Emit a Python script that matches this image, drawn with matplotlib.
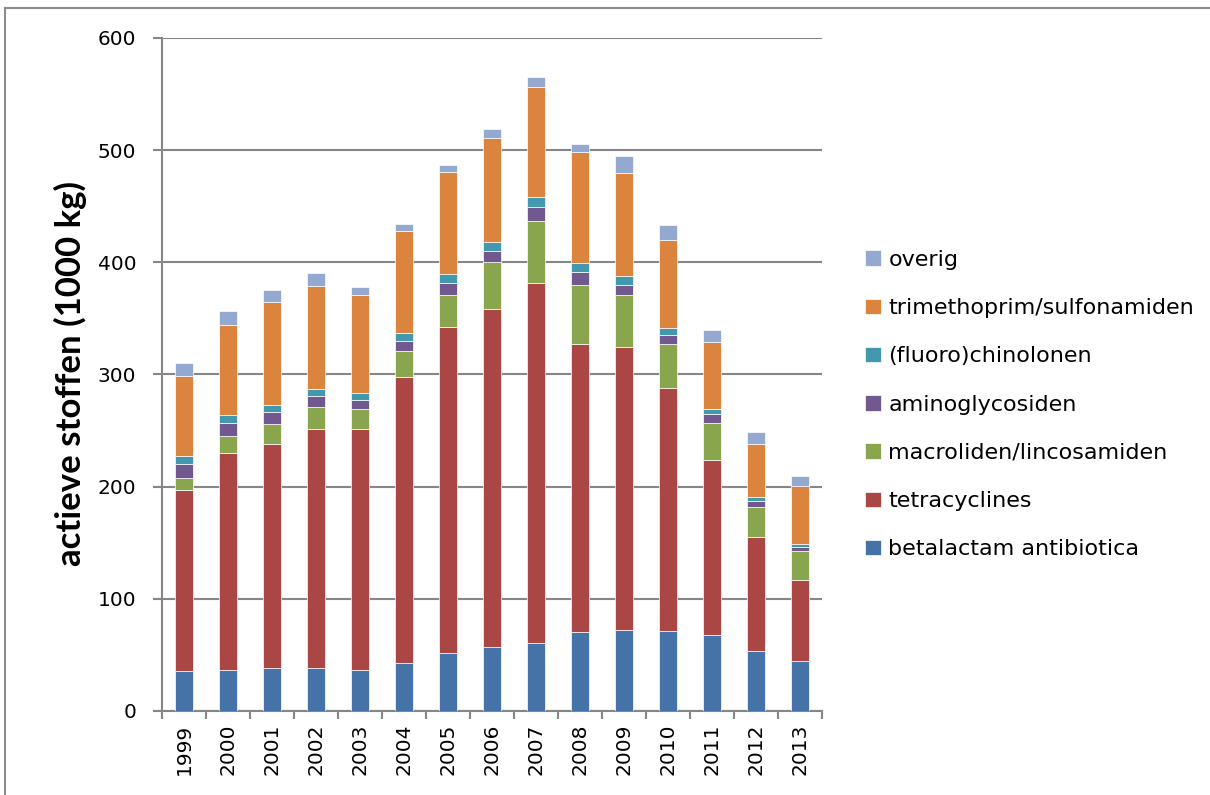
import numpy as np
import matplotlib
matplotlib.use("Agg")
from matplotlib import pyplot as plt
from matplotlib.lines import Line2D

years = [str(y) for y in range(1999, 2014)]

# values in 1000 kg
betalactam = [35.7, 36.3, 38.6, 38.6, 36.3, 43.0, 51.4, 57.3, 60.9, 70.7, 72.5, 71.6, 67.4, 53.8, 44.9]
tetracyclines = [161.6, 194.0, 199.7, 213.1, 215.4, 255.0, 291.2, 300.7, 320.9, 256.8, 251.7, 216.6, 156.1, 101.6, 71.9]
macroliden = [10.1, 14.9, 17.3, 19.3, 17.2, 23.2, 28.3, 41.9, 55.0, 52.3, 46.4, 38.7, 33.3, 26.1, 25.8]
aminoglycosiden = [12.8, 11.8, 11.2, 10.1, 8.6, 8.8, 10.4, 10.4, 12.2, 11.2, 9.2, 8.3, 7.7, 6.0, 3.3]
chinolonen = [7.1, 6.9, 6.0, 5.7, 5.7, 7.2, 8.3, 7.4, 9.0, 8.0, 8.0, 6.5, 4.7, 3.0, 2.7]
trimethoprim = [71.3, 80.1, 91.5, 91.8, 87.9, 91.0, 91.2, 93.4, 98.6, 99.7, 92.0, 78.5, 59.4, 47.8, 52.3]
overig = [11.4, 12.6, 11.3, 11.6, 6.9, 6.0, 5.7, 7.8, 8.3, 7.1, 14.6, 12.8, 11.1, 10.4, 8.6]

series = [
    ("betalactam antibiotica", betalactam, "#4572A7"),
    ("tetracyclines", tetracyclines, "#AA4643"),
    ("macroliden/lincosamiden", macroliden, "#89A54E"),
    ("aminoglycosiden", aminoglycosiden, "#71588F"),
    ("(fluoro)chinolonen", chinolonen, "#4198AF"),
    ("trimethoprim/sulfonamiden", trimethoprim, "#DB843D"),
    ("overig", overig, "#93A9CF"),
]

W, H = 1210, 795
fig = plt.figure(figsize=(W / 100, H / 100), dpi=100)
ax = fig.add_axes([162 / W, 1 - 711 / H, 660 / W, 673 / H])

grey = "#868686"
x = np.arange(len(years))
bottom = np.zeros(len(years))
handles = []
for name, vals, col in series:
    b = ax.bar(x, vals, width=0.4, bottom=bottom, color=col,
               edgecolor="#ffffff", linewidth=0.5, label=name, zorder=3)
    bottom += np.array(vals)
    handles.append(b)

ax.set_xlim(-0.5, len(years) - 0.5)
ax.set_ylim(0, 600)
ax.set_yticks(range(0, 601, 100))
ax.yaxis.grid(True, color=grey, linewidth=1.5, zorder=0)
ax.set_axisbelow(True)

for s in ["top", "right"]:
    ax.spines[s].set_visible(False)
for s in ["left", "bottom"]:
    ax.spines[s].set_color(grey)
    ax.spines[s].set_linewidth(1.5)

ax.set_xticks(x)
ax.set_xticklabels(years, rotation=90, fontsize=14.5, family="DejaVu Sans")
ax.set_xticks(np.arange(-0.5, len(years)), minor=True)
ax.tick_params(axis="x", which="major", length=0, pad=9)
ax.tick_params(axis="x", which="minor", length=6, width=1.5, color=grey)
ax.tick_params(axis="y", length=6.5, width=1.5, color=grey, pad=12, labelsize=14.5)

fig.text(70 / W, 1 - 373 / H, "actieve stoffen (1000 kg)", rotation=90,
         ha="center", va="center", fontsize=25, fontweight="bold",
         family=["Lato", "DejaVu Sans"])

fig.legend(handles[::-1], [s[0] for s in series][::-1], loc="upper left",
           bbox_to_anchor=(845 / W, 1 - 230 / H), frameon=False, fontsize=16,
           handlelength=0.7, handleheight=0.7, handletextpad=0.35,
           labelspacing=1.27)

# outer frame of the original chart
fig.add_artist(Line2D([5 / W, 1], [1 - 8 / H, 1 - 8 / H], color="#8c8c8c", linewidth=1.5))
fig.add_artist(Line2D([5 / W, 5 / W], [0, 1 - 8 / H], color="#8c8c8c", linewidth=1.5))

fig.savefig("out.png", dpi=100)
